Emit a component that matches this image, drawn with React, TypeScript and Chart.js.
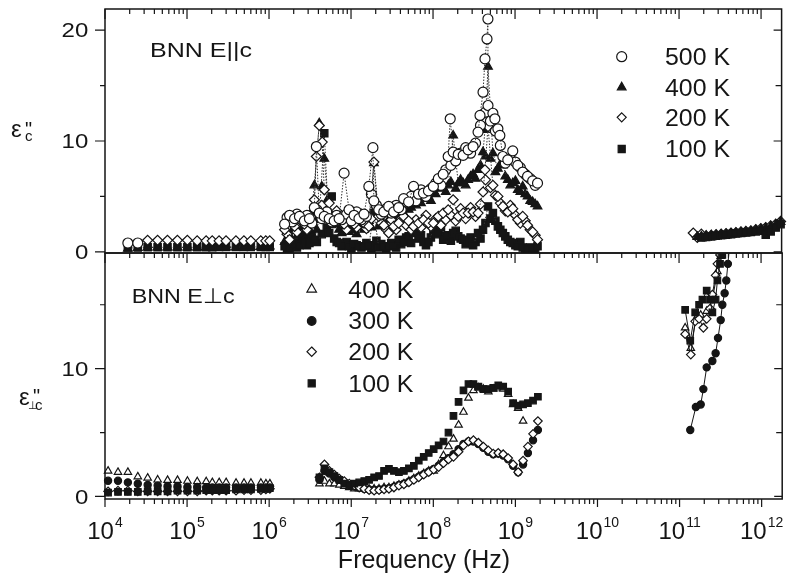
import React, { useEffect, useRef } from 'react';
import { Chart, registerables } from 'chart.js';

Chart.register(...registerables);

const FONT = '"Liberation Sans", Arial, Helvetica, "DejaVu Sans", sans-serif';
const INK = '#151515';

// ---------- axes / ticks ----------
const X_MIN = 1e4;
const X_MAX = 1.78e12;
const X_DECADES = [4, 5, 6, 7, 8, 9, 10, 11, 12];
const TOP_Y_MAJOR = [0, 10, 20];
const TOP_Y_MINOR = [5, 15];
const BOT_Y_MAJOR = [0, 10];
const BOT_Y_MINOR = [5, 15];
const TOP_Y_RANGE = [-0.1, 21.9];
const BOT_Y_RANGE = [-0.2, 19.05];

const TOP_NAMES = ['500 K', '400 K', '200 K', '100 K'];
const BOT_NAMES = ['400 K', '300 K', '200 K', '100 K'];
const TOP_LABEL = 'BNN E||c';
const BOT_LABEL = 'BNN E\u22A5c';
const X_TITLE = 'Frequency (Hz)';

// ---------- frequencies (Hz) ----------
const FREQ_LOW = [1.09e4, 1.44e4, 1.9e4, 2.51e4, 3.31e4, 4.38e4, 5.78e4, 7.64e4, 1.01e5, 1.33e5, 1.71e5, 2.03e5, 2.46e5, 2.99e5, 3.95e5, 4.94e5, 6.0e5, 7.93e5, 9.12e5, 1.02e6];
const FREQ_MID = [1.55e6, 1.78e6, 2.05e6, 2.35e6, 2.7e6, 3.11e6, 3.57e6, 4.1e6, 4.72e6, 5.42e6, 6.23e6, 7.16e6, 8.23e6, 9.46e6, 1.09e7, 1.25e7, 1.44e7, 1.65e7, 1.9e7, 2.18e7, 2.51e7, 2.88e7, 3.31e7, 3.81e7, 4.38e7, 5.04e7, 5.79e7, 6.65e7, 7.64e7, 8.79e7, 1.01e8, 1.16e8, 1.33e8, 1.53e8, 1.76e8, 2.03e8, 2.33e8, 2.68e8, 3.08e8, 3.54e8, 4.07e8, 4.68e8, 5.37e8, 6.18e8, 7.1e8, 8.16e8, 9.38e8, 1.08e9, 1.24e9, 1.42e9, 1.64e9, 1.88e9];
const FREQ_MID_B = [1.66e6, 1.91e6, 2.19e6, 2.52e6, 2.9e6, 3.33e6, 3.83e6, 4.4e6, 5.06e6, 5.81e6, 6.68e6, 7.68e6, 8.83e6, 1.01e7, 1.17e7, 1.34e7, 1.54e7, 1.77e7, 2.04e7, 2.34e7, 2.69e7, 3.09e7, 3.55e7, 4.09e7, 4.7e7, 5.4e7, 6.2e7, 7.13e7, 8.2e7, 9.42e7, 1.08e8, 1.25e8, 1.43e8, 1.65e8, 1.89e8, 2.17e8, 2.5e8, 2.87e8, 3.3e8, 3.79e8, 4.36e8, 5.01e8, 5.76e8, 6.62e8, 7.61e8, 8.75e8, 1.01e9, 1.16e9, 1.33e9, 1.53e9, 1.76e9];
const FREQ_HIGH_TOP = [1.49e11, 1.67e11, 1.87e11, 2.14e11, 2.47e11, 2.83e11, 3.26e11, 3.74e11, 4.3e11, 4.94e11, 5.69e11, 6.53e11, 7.51e11, 8.63e11, 9.93e11, 1.14e12, 1.31e12, 1.51e12, 1.73e12];

// ---------- top panel (E || c) ----------
const T500_LOW = [null, null, 0.8, 0.8, null, null, null, null, null, null, null, null, null, null, null, null, null, null, null, null];
const T400_LOW = [null, null, 0.3, 0.35, 0.4, 0.4, 0.4, 0.4, 0.4, 0.4, 0.4, 0.4, 0.4, 0.4, 0.4, 0.45, 0.45, 0.45, 0.5, 0.5];
const T200_LOW = [null, null, null, null, 1.05, 1.05, 1.05, 1.05, 1.05, 1.0, 1.0, 1.0, 1.0, 1.0, 1.0, 1.0, 1.0, 1.0, 1.0, 1.0];
const T100_LOW = [null, null, 0.4, 0.4, 0.42, 0.42, 0.42, 0.42, 0.42, 0.42, 0.42, 0.42, 0.45, 0.45, 0.45, 0.45, 0.45, 0.45, 0.45, 0.45];

const T500_MID = [2.5, 3.3, 3.0, 3.2, 2.8, 3.0, 4.0, 3.5, 3.2, 3.0, 2.8, 3.0, 7.1, 3.8, 3.3, 3.0, 3.4, 5.9, 4.6, 3.8, 3.6, 4.1, 3.6, 4.0, 4.8, 4.5, 5.9, 5.2, 5.3, 5.5, 5.9, 6.6, 7.0, 8.6, 9.0, 8.8, 8.7, 9.2, 9.5, 10.8, 14.4, 13.2, 12.5, 11.1, 8.6, 8.3, 9.1, 7.8, 7.2, 6.8, 6.4, 6.2];
const T500_MID_B = [3.1, 2.7, 3.4, 2.9, 3.3, 2.6, 3.8, 3.0, 3.6, 2.7, 3.3, 2.9, 3.4, 2.8, 3.6, 2.9, 3.2, 5.2, 4.2, 3.4, 3.9, 3.5, 4.2, 3.8, 4.5, 5.0, 4.6, 5.6, 5.0, 5.7, 6.2, 6.0, 7.4, 7.8, 8.2, 8.9, 9.4, 8.9, 9.8, 11.4, 12.6, 11.8, 10.9, 9.6, 8.0, 8.4, 8.1, 7.6, 7.0, 6.6, 6.0];
const T500_EXTRA_F = [3.78e6, 1.85e7, 1.62e8, 3.74e8, 4.3e8, 4.55e8, 4.67e8, 5.68e8, 6.53e8];
const T500_EXTRA_V = [9.5, 9.4, 12.0, 12.3, 17.4, 19.2, 21.0, 12.0, 10.5];

const T400_MID = [0.9, 1.5, 2.0, 1.5, 1.8, 2.0, 6.0, 11.6, 8.4, 3.0, 2.5, 2.0, 2.2, 1.8, 2.0, 2.5, 2.0, 2.8, 8.0, 2.3, 2.5, 2.9, 2.9, 3.2, 3.5, 3.8, 4.5, 4.7, 4.8, 5.0, 5.5, 6.0, 5.8, 6.0, 10.5, 6.2, 6.2, 6.5, 7.0, 7.4, 9.0, 16.7, 8.9, 7.5, 7.8, 6.5, 6.2, 5.6, 5.9, 5.0, 4.5, 4.1];
const T400_MID_B = [1.2, 1.9, 1.4, 2.2, 1.6, 2.4, 2.0, 5.9, 4.6, 2.4, 2.9, 1.7, 2.4, 2.0, 1.6, 2.2, 2.6, 2.2, 3.4, 2.7, 2.2, 3.1, 2.6, 3.5, 3.0, 4.0, 4.2, 4.4, 5.1, 4.6, 5.2, 5.7, 5.4, 6.3, 5.7, 6.5, 6.0, 6.8, 6.6, 7.8, 8.6, 8.4, 7.2, 7.9, 6.8, 6.0, 6.4, 5.4, 5.2, 4.6, 4.3];
const T400_EXTRA_F = [4.3e8];
const T400_EXTRA_V = [11.0];

const T200_MID = [2.0, 1.1, 2.3, 3.2, 2.5, 3.3, 4.7, 11.4, 5.6, 4.4, 3.2, 3.2, 2.5, 3.2, 2.5, 2.9, 2.6, 2.3, 8.1, 3.2, 2.4, 1.7, 2.3, 2.6, 3.2, 2.8, 2.3, 2.6, 2.9, 2.6, 2.6, 3.2, 3.5, 3.8, 4.7, 3.2, 3.5, 3.5, 3.6, 3.5, 5.4, 11.3, 6.0, 5.0, 4.1, 3.6, 3.9, 2.9, 3.2, 2.4, 1.8, 1.1];
const T200_MID_B = [1.6, 2.6, 1.8, 2.8, 2.0, 2.7, 3.8, 4.2, 3.6, 2.7, 3.7, 2.8, 2.0, 2.9, 2.2, 3.4, 2.1, 3.0, 4.0, 2.6, 2.0, 2.9, 2.0, 3.0, 2.4, 2.0, 2.9, 2.2, 3.3, 2.3, 3.0, 2.4, 2.9, 3.3, 2.8, 3.9, 3.0, 4.0, 3.2, 4.3, 6.5, 5.8, 5.1, 4.4, 3.7, 4.2, 3.3, 2.6, 2.8, 2.0, 1.5];
const T200_EXTRA_F = [3.78e6, 4.45e6, 4.3e8];
const T200_EXTRA_V = [8.6, 9.9, 7.4];

const T100_MID = [0.5, 0.3, 0.8, 0.6, 1.0, 0.8, 1.1, 3.0, 10.7, 1.7, 1.2, 0.8, 0.6, 0.5, 0.7, 0.5, 0.5, 0.6, 3.5, 0.4, 0.5, 0.5, 0.6, 1.1, 0.9, 1.4, 1.7, 1.2, 0.9, 0.9, 2.0, 1.7, 1.1, 1.5, 1.7, 1.4, 1.1, 0.9, 0.6, 1.7, 2.0, 4.1, 3.5, 2.3, 1.7, 1.1, 0.8, 0.5, 0.4, 0.2, 0.3, 0.5];
const T100_MID_B = [0.2, 0.7, 0.4, 1.2, 0.6, 1.4, 0.9, 1.6, 2.2, 5.0, 0.9, 0.5, 0.9, 0.3, 0.6, 0.4, 0.8, 0.3, 1.0, 0.7, 0.3, 0.8, 0.4, 0.7, 1.3, 0.8, 1.9, 1.5, 0.6, 1.3, 1.6, 2.2, 1.4, 1.0, 1.9, 1.2, 0.7, 1.3, 0.9, 1.2, 2.6, 3.0, 2.8, 2.0, 1.4, 0.9, 0.6, 0.9, 0.3, 0.4, 0.2];

const T200_HIGH = [1.7, 1.3, 1.6, 1.45, 1.5, 1.55, 1.6, 1.65, 1.7, 1.75, 1.8, 1.85, 1.9, 2.0, 2.1, 2.2, 2.35, 2.5, 2.75];
const T400_HIGH = [null, 1.35, 1.4, 1.45, 1.5, 1.5, 1.55, 1.6, 1.65, 1.7, 1.75, 1.8, 1.85, 1.95, 2.05, 2.15, 2.3, 2.45, 2.7];
const T100_HIGH = [null, null, 1.3, 1.35, 1.4, 1.45, 1.5, 1.55, 1.6, 1.65, 1.7, 1.75, 1.8, 1.85, 1.9, 1.55, 1.85, 2.2, 2.5];

// ---------- bottom panel (E perp c) ----------
const B400_LOW = [2.0, 1.9, 1.9, 1.55, 1.45, 1.3, 1.27, 1.27, 1.2, 1.17, 1.17, 1.1, 1.1, 1.1, 1.05, 1.05, 1.05, 1.05, 1.0, 1.0];
const B300_LOW = [1.23, 1.23, 1.1, 1.0, 0.9, 0.85, 0.8, 0.8, 0.75, 0.75, 0.7, 0.7, 0.7, 0.7, 0.7, 0.7, 0.7, 0.7, 0.7, 0.7];
const B200_LOW = [0.4, 0.45, 0.45, 0.4, 0.4, 0.4, 0.4, 0.4, 0.4, 0.4, 0.45, 0.45, 0.45, 0.45, 0.45, 0.5, 0.5, 0.5, 0.55, 0.6];
const B100_LOW = [0.3, 0.35, 0.35, 0.35, 0.4, 0.4, 0.4, 0.45, 0.45, 0.45, 0.5, 0.5, 0.5, 0.5, 0.55, 0.55, 0.55, 0.6, 0.6, 0.65];

const N7 = [null, null, null, null, null, null, null];
const B100_MID = [...N7, 1.5, 2.2, 1.9, 1.6, 1.3, 1.0, 0.9, 1.0, 1.1, 1.2, 1.3, 1.5, 1.6, 2.0, 2.15, 2.0, 1.9, 2.0, 2.2, 2.4, 2.8, 3.1, 3.4, 3.7, 4.0, 4.3, 5.0, 6.3, 7.4, 8.3, 8.8, 8.8, 8.6, 8.4, 8.4, 8.5, 8.7, 8.6, 8.2, 7.3, 7.1, 7.2, 7.3, 7.5, 7.8];
const B400_MID = [...N7, 1.0, 1.2, 1.0, 1.0, 0.9, 0.8, 0.7, 0.6, 0.6, 0.6, 0.6, 0.6, 0.6, 0.7, 0.7, 0.8, 0.9, 1.0, 1.2, 1.4, 1.6, 1.8, 2.0, 2.0, 2.5, 3.2, 3.9, 4.5, 5.6, 6.6, 7.7, 8.3, 8.5, 8.4, 8.2, 8.4, 8.5, 8.4, 8.0, 7.2, 6.9, 5.9, null, null, null];
const B200_MID = [...N7, 1.5, 2.5, 2.0, 1.7, 1.4, 1.2, 1.0, 0.85, 0.7, 0.6, 0.5, 0.45, 0.5, 0.55, 0.6, 0.7, 0.85, 0.95, 1.1, 1.3, 1.5, 1.7, 1.9, 2.1, 2.3, 2.6, 2.9, 3.1, 3.5, 4.0, 4.3, 4.4, 4.2, 3.9, 3.6, 3.35, 3.4, 3.3, 3.0, 2.5, 1.9, 2.8, 3.9, 4.9, 5.9];
const B300_MID = [...N7, 1.3, 2.0, 1.8, 1.5, 1.3, 1.1, 0.9, 0.8, 0.7, 0.6, 0.55, 0.5, 0.55, 0.6, 0.65, 0.75, 0.9, 1.0, 1.15, 1.35, 1.55, 1.75, 1.95, 2.15, 2.4, 2.7, 3.0, 3.3, 3.7, 4.1, 4.3, 4.3, 4.1, 3.8, 3.5, 3.3, 3.35, 3.2, 2.9, 2.4, 1.9, 2.5, 3.4, 4.4, 5.2];

const B300_HIGH_F = [1.35e11, 1.58e11, 1.81e11, 1.95e11, 2.14e11, 2.51e11, 2.75e11, 2.94e11, 3.17e11, 3.32e11, 3.54e11, 3.71e11, 3.88e11, 4.07e11];
const B300_HIGH_V = [5.2, 7.0, 7.2, 8.4, 10.1, 10.6, 11.2, 12.4, 13.8, 15.0, 15.9, 16.9, 18.2, 19.6];
const B100_HIGH_F = [1.17e11, 1.35e11, 1.55e11, 1.73e11, 1.9e11, 2.14e11, 2.35e11, 2.51e11, 2.75e11, 2.89e11, 3.11e11, 3.32e11, 3.5e11];
const B100_HIGH_V = [14.6, 12.2, 14.4, 15.0, 15.4, 16.1, 15.4, 14.4, 15.4, 16.9, 18.2, 18.9, 19.6];
const B200_HIGH_F = [1.17e11, 1.37e11, 1.55e11, 1.73e11, 1.95e11, 2.14e11, 2.35e11, 2.51e11, 2.75e11, 2.89e11, 3.11e11, 3.3e11];
const B200_HIGH_V = [12.7, 11.1, 13.7, 13.9, 13.2, 13.9, 14.7, 15.8, 17.3, 18.2, 18.9, 19.6];
const B400_HIGH_F = [1.17e11, 1.37e11, 1.58e11, 1.81e11, 2.14e11, 2.51e11, 2.89e11, 3.17e11, 3.4e11];
const B400_HIGH_V = [13.2, 11.6, 13.9, 14.2, 14.5, 15.4, 17.6, 18.8, 19.6];

// ---------- helpers ----------
type Pt = { x: number; y: number };
function pts(freqs: number[], vals: (number | null)[], exF: number[] = [], exV: number[] = []): Pt[] {
  const out: Pt[] = [];
  freqs.forEach((f, i) => {
    const v = vals[i];
    if (v !== null && v !== undefined) out.push({ x: f, y: v });
  });
  exF.forEach((f, i) => out.push({ x: f, y: exV[i] }));
  out.sort((a, b) => a.x - b.x);
  return out;
}

type Mk = { shape: string; filled: boolean; r: number };

function ds(data: Pt[], mk: Mk, order: number, line: 'dot' | 'solid' | 'none', clip: any) {
  return {
    data,
    showLine: line !== 'none',
    borderColor: line === 'dot' ? '#333' : INK,
    borderWidth: 1,
    borderDash: line === 'dot' ? [1.5, 1.5] : [],
    pointStyle: mk.shape,
    pointRadius: mk.r,
    pointHoverRadius: mk.r,
    pointBorderColor: INK,
    pointBackgroundColor: mk.filled ? INK : '#ffffff',
    pointBorderWidth: 1.2,
    order,
    clip,
  };
}

function marker(ctx: CanvasRenderingContext2D, mk: Mk, x: number, y: number) {
  const r = mk.r;
  ctx.save();
  ctx.beginPath();
  if (mk.shape === 'circle') ctx.arc(x, y, r, 0, Math.PI * 2);
  else if (mk.shape === 'triangle') {
    ctx.moveTo(x, y - r);
    ctx.lineTo(x + r * 0.866, y + r * 0.5);
    ctx.lineTo(x - r * 0.866, y + r * 0.5);
    ctx.closePath();
  } else if (mk.shape === 'rectRot') {
    ctx.moveTo(x, y - r);
    ctx.lineTo(x + r, y);
    ctx.lineTo(x, y + r);
    ctx.lineTo(x - r, y);
    ctx.closePath();
  } else {
    const h = r * Math.SQRT1_2;
    ctx.rect(x - h, y - h, 2 * h, 2 * h);
  }
  ctx.fillStyle = mk.filled ? INK : '#ffffff';
  ctx.fill();
  ctx.lineWidth = 1.2;
  ctx.strokeStyle = INK;
  ctx.stroke();
  ctx.restore();
}

function text(ctx: CanvasRenderingContext2D, s: string, x: number, y: number, size: number, width?: number, align: 'left' | 'right' | 'center' = 'left') {
  ctx.save();
  ctx.font = `${size}px ${FONT}`;
  ctx.fillStyle = INK;
  ctx.textAlign = 'left';
  ctx.textBaseline = 'alphabetic';
  const w = ctx.measureText(s).width;
  const sx = width ? width / w : 1;
  let x0 = x;
  if (align === 'right') x0 = x - w * sx;
  if (align === 'center') x0 = x - (w * sx) / 2;
  ctx.translate(x0, y);
  ctx.scale(sx, 1);
  ctx.fillText(s, 0, 0);
  ctx.restore();
}

type FrameCfg = {
  yMajor: number[];
  yMinor: number[];
  topTicks: boolean;
  bottomMajor: number;
  xLabels: boolean;
  extra: (ctx: CanvasRenderingContext2D, chart: any) => void;
};

function framePlugin(cfg: FrameCfg) {
  return {
    id: 'frame',
    afterDatasetsDraw(chart: any) {
      const { ctx, chartArea: a } = chart;
      const xs = chart.scales.x;
      const ys = chart.scales.y;
      ctx.save();
      ctx.strokeStyle = INK;
      ctx.lineWidth = 1.5;
      ctx.strokeRect(a.left, a.top, a.right - a.left, a.bottom - a.top);
      ctx.lineWidth = 1.2;
      ctx.beginPath();
      for (const n of X_DECADES) {
        for (let k = 1; k <= 9; k++) {
          const f = k * Math.pow(10, n);
          if (f > xs.max * 1.0001) continue;
          const px = xs.getPixelForValue(f);
          const major = k === 1;
          if (cfg.topTicks) {
            ctx.moveTo(px, a.top);
            ctx.lineTo(px, a.top + (major ? 10 : 5));
          }
          ctx.moveTo(px, a.bottom);
          ctx.lineTo(px, a.bottom + (major ? cfg.bottomMajor : 5));
        }
      }
      for (const v of cfg.yMajor) {
        const py = ys.getPixelForValue(v);
        ctx.moveTo(a.left - 10, py);
        ctx.lineTo(a.left, py);
        ctx.moveTo(a.right - 8, py);
        ctx.lineTo(a.right, py);
      }
      for (const v of cfg.yMinor) {
        const py = ys.getPixelForValue(v);
        ctx.moveTo(a.left - 5, py);
        ctx.lineTo(a.left, py);
        ctx.moveTo(a.right - 6, py);
        ctx.lineTo(a.right, py);
      }
      ctx.stroke();
      ctx.restore();

      // y tick labels
      ctx.save();
      ctx.font = `20.5px ${FONT}`;
      const sx = 26.7 / ctx.measureText('10').width;
      ctx.restore();
      for (const v of cfg.yMajor) {
        const py = ys.getPixelForValue(v);
        ctx.save();
        ctx.font = `20.5px ${FONT}`;
        const w = ctx.measureText(String(v)).width;
        ctx.restore();
        text(ctx, String(v), a.left - 16.7, py + 7.3, 20.5, w * sx, 'right');
      }

      if (cfg.xLabels) {
        for (const n of X_DECADES) {
          const px = xs.getPixelForValue(Math.pow(10, n));
          ctx.save();
          ctx.font = `24px ${FONT}`;
          const wb = ctx.measureText('10').width;
          ctx.font = `14px ${FONT}`;
          const we = ctx.measureText(String(n)).width;
          ctx.restore();
          const x0 = px - (wb + 1 + we) / 2;
          text(ctx, '10', x0, a.bottom + 40, 24);
          text(ctx, String(n), x0 + wb + 1, a.bottom + 28, 14);
        }
      }
      cfg.extra(ctx, chart);
    },
  };
}

// ---------- marker styles ----------
const TOP_MK: Mk[] = [
  { shape: 'circle', filled: false, r: 5 },
  { shape: 'triangle', filled: true, r: 5 },
  { shape: 'rectRot', filled: false, r: 5 },
  { shape: 'rect', filled: true, r: 5.2 },
];
const BOT_MK: Mk[] = [
  { shape: 'triangle', filled: false, r: 4.3 },
  { shape: 'circle', filled: true, r: 3.6 },
  { shape: 'rectRot', filled: false, r: 4.3 },
  { shape: 'rect', filled: true, r: 4.6 },
];
const TOP_LEG_MK: Mk[] = [
  { shape: 'circle', filled: false, r: 5 },
  { shape: 'triangle', filled: true, r: 5 },
  { shape: 'rectRot', filled: false, r: 4.5 },
  { shape: 'rect', filled: true, r: 5 },
];
const BOT_LEG_MK: Mk[] = [
  { shape: 'triangle', filled: false, r: 5.5 },
  { shape: 'circle', filled: true, r: 4.3 },
  { shape: 'rectRot', filled: false, r: 4.7 },
  { shape: 'rect', filled: true, r: 5 },
];

function makeOptions(pad: any, yr: number[]) {
  return {
    responsive: false,
    animation: false as const,
    devicePixelRatio: 1,
    events: [],
    layout: { padding: pad },
    plugins: { legend: { display: false }, tooltip: { enabled: false }, title: { display: false } },
    scales: {
      x: { type: 'logarithmic' as const, min: X_MIN, max: X_MAX, display: false },
      y: { type: 'linear' as const, min: yr[0], max: yr[1], display: false },
    },
  };
}

export default function App() {
  const topRef = useRef<HTMLCanvasElement>(null);
  const botRef = useRef<HTMLCanvasElement>(null);

  useEffect(() => {
    const clipTop = { left: 6, right: 6, top: 6, bottom: 0 };
    const clipBot = { left: 6, right: 6, top: 0, bottom: 6 };

    const [c500, t400, d200, s100] = TOP_MK;
    const topData = [
      ds(pts(FREQ_HIGH_TOP, T100_HIGH), s100, 0, 'dot', clipTop),
      ds(pts(FREQ_HIGH_TOP, T400_HIGH), t400, 0, 'dot', clipTop),
      ds(pts(FREQ_LOW, T500_LOW), c500, 1, 'dot', clipTop),
      ds(pts(FREQ_MID, T500_MID, T500_EXTRA_F, T500_EXTRA_V), c500, 1, 'dot', clipTop),
      ds(pts(FREQ_MID_B, T500_MID_B), c500, 1, 'none', clipTop),
      ds(pts(FREQ_LOW, T200_LOW), d200, 2, 'dot', clipTop),
      ds(pts(FREQ_MID, T200_MID, T200_EXTRA_F, T200_EXTRA_V), d200, 2, 'dot', clipTop),
      ds(pts(FREQ_MID_B, T200_MID_B), d200, 2, 'none', clipTop),
      ds(pts(FREQ_HIGH_TOP, T200_HIGH), d200, 2, 'dot', clipTop),
      ds(pts(FREQ_LOW, T400_LOW), t400, 3, 'dot', clipTop),
      ds(pts(FREQ_MID, T400_MID, T400_EXTRA_F, T400_EXTRA_V), t400, 3, 'dot', clipTop),
      ds(pts(FREQ_MID_B, T400_MID_B), t400, 3, 'none', clipTop),
      ds(pts(FREQ_LOW, T100_LOW), s100, 4, 'dot', clipTop),
      ds(pts(FREQ_MID, T100_MID), s100, 4, 'dot', clipTop),
      ds(pts(FREQ_MID_B, T100_MID_B), s100, 4, 'none', clipTop),
    ];

    const [bt400, bc300, bd200, bs100] = BOT_MK;
    const botData = [
      ds(pts(FREQ_LOW, B100_LOW), bs100, 1, 'none', clipBot),
      ds(pts(FREQ_MID, B100_MID), bs100, 1, 'none', clipBot),
      ds(pts(B100_HIGH_F, B100_HIGH_V), bs100, 1, 'solid', clipBot),
      ds(pts(FREQ_LOW, B200_LOW), bd200, 2, 'none', clipBot),
      ds(pts(FREQ_MID, B200_MID), bd200, 2, 'none', clipBot),
      ds(pts(B200_HIGH_F, B200_HIGH_V), bd200, 2, 'solid', clipBot),
      ds(pts(FREQ_LOW, B300_LOW), bc300, 3, 'none', clipBot),
      ds(pts(FREQ_MID, B300_MID), bc300, 3, 'none', clipBot),
      ds(pts(B300_HIGH_F, B300_HIGH_V), bc300, 3, 'solid', clipBot),
      ds(pts(FREQ_LOW, B400_LOW), bt400, 4, 'none', clipBot),
      ds(pts(FREQ_MID, B400_MID), bt400, 4, 'none', clipBot),
      ds(pts(B400_HIGH_F, B400_HIGH_V), bt400, 4, 'solid', clipBot),
    ];

    const topPlugin = framePlugin({
      yMajor: TOP_Y_MAJOR,
      yMinor: TOP_Y_MINOR,
      topTicks: true,
      bottomMajor: 10,
      xLabels: false,
      extra: (ctx) => {
        text(ctx, TOP_LABEL, 150, 56.7, 21, 102);
        const rows = [56.7, 87.3, 117.3, 149];
        TOP_NAMES.forEach((nm, i) => {
          marker(ctx, TOP_LEG_MK[i], 621.7, rows[i]);
          text(ctx, nm, 665, rows[i] + 8.4, 23.5, 65);
        });
        // y title  eps_c''
        text(ctx, '\u03B5', 11, 137, 24);
        text(ctx, '"', 25, 136, 20);
        text(ctx, 'c', 25, 141, 15);
      },
    });

    const botPlugin = framePlugin({
      yMajor: BOT_Y_MAJOR,
      yMinor: BOT_Y_MINOR,
      topTicks: false,
      bottomMajor: 8,
      xLabels: true,
      extra: (ctx) => {
        text(ctx, BOT_LABEL, 131.7, 303.3, 21, 103);
        const rows = [289.3, 321, 351.7, 383.3];
        BOT_NAMES.forEach((nm, i) => {
          marker(ctx, BOT_LEG_MK[i], 311.7, rows[i]);
          text(ctx, nm, 348.3, rows[i] + 8.4, 23.5, 65);
        });
        text(ctx, X_TITLE, 424, 568, 25, undefined, 'center');
        // y title eps_perp c''
        text(ctx, '\u03B5', 19, 405, 24);
        text(ctx, '"', 33, 403, 20);
        text(ctx, '\u22A5', 28, 409, 11);
        text(ctx, 'c', 35, 410, 15);
      },
    });

    const top = new Chart(topRef.current as HTMLCanvasElement, {
      type: 'scatter',
      data: { datasets: topData as any },
      options: makeOptions({ left: 105, right: 1, top: 9, bottom: 574 - 253 }, TOP_Y_RANGE) as any,
      plugins: [topPlugin as any],
    });
    const bot = new Chart(botRef.current as HTMLCanvasElement, {
      type: 'scatter',
      data: { datasets: botData as any },
      options: makeOptions({ left: 105, right: 1, top: 253, bottom: 574 - 499 }, BOT_Y_RANGE) as any,
      plugins: [botPlugin as any],
    });
    return () => {
      top.destroy();
      bot.destroy();
    };
  }, []);

  const cs: React.CSSProperties = { position: 'absolute', left: 0, top: 0, display: 'block' };
  return (
    <div style={{ position: 'absolute', left: 0, top: 0, width: 788, height: 574, background: '#fff', overflow: 'hidden' }}>
      <canvas ref={botRef} width={788} height={574} style={cs} />
      <canvas ref={topRef} width={788} height={574} style={cs} />
    </div>
  );
}
